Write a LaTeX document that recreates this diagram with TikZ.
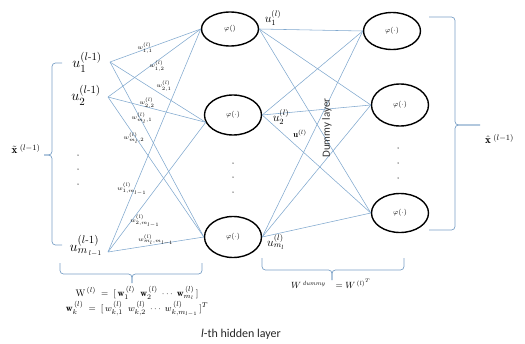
\documentclass[tikz,border=0pt]{standalone}
\usepackage{amsmath}
\usepackage{fontspec}
\newfontfamily\labelfont{Carlito}
\usetikzlibrary{shapes.geometric}
\definecolor{linkblue}{RGB}{128,168,206}
\definecolor{braceblue}{RGB}{122,160,198}
\definecolor{dotgray}{RGB}{100,100,100}

\begin{document}
\begin{tikzpicture}[x=1pt,y=-1pt,
  unit/.style={draw=black, line width=1.4pt, ellipse, minimum width=57pt,
    minimum height=#1, inner sep=0pt, font=\fontsize{7.5}{8}\selectfont},
  link/.style={draw=linkblue, line width=0.55pt},
  bracepath/.style={draw=braceblue, line width=0.7pt, rounded corners=3.5pt},
  wlab/.style={font=\fontsize{6.5}{7}\selectfont, inner sep=0pt},
  inlab/.style={font=\fontsize{15}{16}\selectfont, inner sep=0pt},
  hidlab/.style={font=\fontsize{11.5}{12}\selectfont, inner sep=0pt},
  formula/.style={font=\fontsize{9.5}{10}\selectfont, inner sep=0pt},
  dotmark/.style={circle, fill=dotgray, inner sep=0pt, minimum size=1.5pt}
]
\useasboundingbox (0,0) rectangle (525,343);

% hidden units
\node[unit=34pt] (h1) at (230,29) {$\varphi()$};
\node[unit=40pt] (h2) at (233,115) {$\varphi(\cdot)$};
\node[unit=41pt] (h3) at (233,237) {$\varphi(\cdot)$};
% output units
\node[unit=37pt] (o1) at (392,31) {$\varphi(\cdot)$};
\node[unit=42pt] (o2) at (400,105) {$\varphi(\cdot)$};
\node[unit=39pt] (o3) at (400,213) {$\varphi(\cdot)$};

% input labels
\node[inlab] (i1) at (87,62) {$u_1^{(l\text{-}1)}$};
\node[inlab] (i2) at (86,95) {$u_2^{(l\text{-}1)}$};
\node[inlab] (i3) at (86,246) {$u_{m_{\,l-1}}^{(l\text{-}1)}$};
\coordinate (p1) at (110,62);
\coordinate (p2) at (108,97);
\coordinate (p3) at (108,252);

% input to hidden connections
\foreach \s in {p1,p2,p3}{
  \draw[link] (\s) -- (h1.west);
  \draw[link] (\s) -- (h2.195);
  \draw[link] (\s) -- (h3.west);
}
% hidden to output connections
\foreach \s in {h1,h2,h3}{
  \foreach \t in {o1,o2,o3}{
    \draw[link] (\s.east) -- (\t.west);
  }
}

% weight labels
\node[wlab] (w11) at (145,48)  {$w_{1,1}^{(l)}$};
\node[wlab] (w12) at (157,66)  {$w_{1,2}^{(l)}$};
\node[wlab] (w21) at (164,86)  {$w_{2,1}^{(l)}$};
\node[wlab] (w22) at (147,103) {$w_{2,2}^{(l)}$};
\node[wlab] (wm1) at (142,118) {$w_{m_l,1}^{(l)}$};
\node[wlab] (wm2) at (134,138) {$w_{m_l,2}^{(l)}$};
\node[wlab] (w1m) at (132,189) {$w_{1,m_{l-1}}^{(l)}$};
\node[wlab] (w2m) at (145,221) {$w_{2,m_{l-1}}^{(l)}$};
\node[wlab] (wmm) at (156,240) {$w_{m_l,m_{l-1}}^{(l)}$};

% hidden output labels
\node[hidlab] (u1) at (273,18)  {$u_1^{(l)}$};
\node[hidlab] (u2) at (281,117) {$u_2^{(l)}$};
\node[hidlab] (um) at (276,242) {$u_{m_l}^{(l)}$};
\node[font=\fontsize{8.5}{9}\selectfont, inner sep=0pt] (uvec) at (300,134) {$\mathbf{u}^{(l)}$};
\node[rotate=90, font=\labelfont\fontsize{11}{12}\selectfont, text=black!80, inner sep=0pt] (dummy) at (327,128) {Dummy layer};

% dots
\foreach \y [count=\k] in {155,169,184}{ \node[dotmark] (din\k) at (78,\y) {}; }
\foreach \y [count=\k] in {163,177,192}{ \node[dotmark] (dhid\k) at (233,\y) {}; }
\foreach \y [count=\k] in {148,163,178}{ \node[dotmark] (dout\k) at (398,\y) {}; }

% braces
\draw[bracepath] (62,63) -| (52,155) -- (44,155);
\draw[bracepath] (62,245) -| (52,155) -- (44,155);
\draw[bracepath] (429,17) -| (455,125) -- (480,125);
\draw[bracepath] (429,230) -| (455,125) -- (480,125);
\draw[bracepath] (60,263) |- (132,274) -- (132,283);
\draw[bracepath] (202,263) |- (132,274) -- (132,283);
\draw[bracepath] (262,258) |- (332,270) -- (332,280);
\draw[bracepath] (404,258) |- (332,270) -- (332,280);

% brace labels
\node[font=\fontsize{11}{12}\selectfont, inner sep=0pt] (xin) at (26,149) {$\tilde{\mathbf{x}}^{\;(l-1)}$};
\node[font=\fontsize{11}{12}\selectfont, inner sep=0pt, anchor=west] (xout) at (485,139) {$\hat{\mathbf{x}}^{\;(l-1)}$};

% formulas
\node[formula] (fW) at (137,293) {$\mathrm{W}^{\,(l)}\; = \;[\,\mathbf{w}_1^{\,(l)}\;\; \mathbf{w}_2^{\,(l)}\; \cdots\; \mathbf{w}_{m_l}^{\,(l)}\,]$};
\node[formula] (fw) at (137,309) {$\mathbf{w}_k^{\,(l)}\; = \;[\,w_{k,1}^{\,(l)}\;\; w_{k,2}^{\,(l)}\; \cdots\; w_{k,m_{l-1}}^{\,(l)}\,]^T$};
\node[formula, font=\fontsize{9}{10}\selectfont] (fd) at (331,284) {$W^{\,\mathit{dummy}} \;\;\; = W^{\,(l)^T}$};

% caption
\node[font=\labelfont\fontsize{12}{14}\selectfont, text=black!85, inner sep=0pt] (cap) at (241,334) {\textit{l}-th hidden layer};
\end{tikzpicture}
\end{document}
